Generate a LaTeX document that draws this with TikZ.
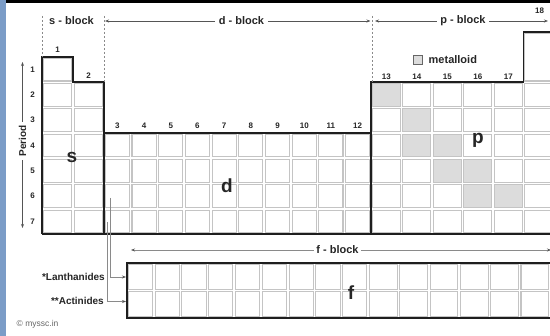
\documentclass[tikz,border=0pt]{standalone}
\usepackage{fontspec}
\setmainfont{Liberation Sans}
\usetikzlibrary{arrows.meta}
\definecolor{cellgray}{HTML}{C4C4C4}
\definecolor{metal}{HTML}{DCDCDC}
\definecolor{outl}{HTML}{1E1E1E}
\definecolor{stripblue}{HTML}{7B9CC7}
\definecolor{arrgray}{HTML}{555555}
\definecolor{lightarr}{HTML}{8A8A8A}
\tikzset{
  cellbox/.style={draw=cellgray, line width=1.1pt, fill=white},
  metalbox/.style={draw=cellgray, line width=1.1pt, fill=metal},
  outline/.style={draw=outl, line width=1.6pt, line join=miter},
  blocklab/.style={font=\fontsize{11}{13}\selectfont\bfseries, inner sep=3.5pt, text=black!85},
  numlab/.style={font=\fontsize{8}{9}\selectfont\bfseries, inner sep=0pt, text=black!85},
  biglab/.style={font=\fontsize{19}{21}\selectfont\bfseries, inner sep=0pt, text=black!85},
  sidelab/.style={font=\fontsize{10}{12}\selectfont\bfseries, inner sep=0pt, text=black!85},
  blockarrow/.style={draw=arrgray, line width=0.7pt, -{Stealth[length=4pt,width=3pt]}},
  dashline/.style={draw=lightarr, line width=0.8pt, dash pattern=on 2.5pt off 1.5pt},
  conn/.style={draw=lightarr, line width=0.8pt},
  connarrow/.style={draw=lightarr, line width=0.8pt, -{Stealth[length=4pt,width=3pt,color=arrgray]}},
}
\begin{document}
\begin{tikzpicture}[x=1pt,y=-1pt]
\useasboundingbox (0,0) rectangle (550,336);
\clip (0,0) rectangle (550,336);
\fill[white] (0,0) rectangle (550,336);
% frame decorations
\fill[stripblue] (0,0) rectangle (6,336);
\fill[black] (6,0) rectangle (550,3.3);

% ---------------- cells ----------------
% s-block
\foreach \r in {1,...,7}{
  \pgfmathsetmacro\ya{57+25.3*(\r-1)}
  \draw[cellbox] (42+1.3,\ya+1.3) rectangle (73-1.3,\ya+25.3-1.3);
}
\foreach \r in {2,...,7}{
  \pgfmathsetmacro\ya{57+25.3*(\r-1)}
  \draw[cellbox] (73+1.3,\ya+1.3) rectangle (104-1.3,\ya+25.3-1.3);
}
% d-block
\foreach \c in {0,...,9}{
  \foreach \r in {4,...,7}{
    \pgfmathsetmacro\xa{104+26.7*\c}
    \pgfmathsetmacro\ya{57+25.3*(\r-1)}
    \draw[cellbox] (\xa+1.3,\ya+1.3) rectangle (\xa+26.7-1.3,\ya+25.3-1.3);
  }
}
% p-block
\foreach \c in {0,...,5}{
  \foreach \r in {2,...,7}{
    \pgfmathsetmacro\xa{371+30.5*\c}
    \pgfmathsetmacro\ya{57+25.3*(\r-1)}
    \draw[cellbox] (\xa+1.3,\ya+1.3) rectangle (\xa+30.5-1.3,\ya+25.3-1.3);
  }
}
\draw[cellbox] (523.5+1.3,32+1.3) rectangle (554-1.3,82.3-1.3);
% metalloids
\foreach \r/\c in {2/0,3/1,4/1,4/2,5/2,5/3,6/3,6/4}{
  \pgfmathsetmacro\xa{371+30.5*\c}
  \pgfmathsetmacro\ya{57+25.3*(\r-1)}
  \draw[metalbox] (\xa+1.3,\ya+1.3) rectangle (\xa+30.5-1.3,\ya+25.3-1.3);
}
% outlines
\draw[outline] (42,234.1) -- (42,57) -- (73,57) -- (73,82.3) -- (104,82.3) -- (104,132.9)
  -- (371,132.9) -- (371,82.3) -- (523.5,82.3) -- (523.5,32) -- (560,32);
\draw[outline] (42,234.1) -- (560,234.1);
\draw[outline] (104,82.3) -- (104,234.1);
\draw[outline] (371,82.3) -- (371,234.1);

% ---------------- f-block ----------------
\foreach \r in {0,1}{
  \pgfmathsetmacro\ya{263+27.5*\r}
  \foreach \c in {0,...,8}{
    \pgfmathsetmacro\xa{127+26.8*\c}
    \draw[cellbox] (\xa+1.3,\ya+1.3) rectangle (\xa+26.8-1.3,\ya+27.5-1.3);
  }
  \foreach \c in {0,...,6}{
    \pgfmathsetmacro\xa{368.2+30.3*\c}
    \draw[cellbox] (\xa+1.3,\ya+1.3) rectangle (\xa+30.3-1.3,\ya+27.5-1.3);
  }
}
\draw[outline] (560,263) -- (127,263) -- (127,318) -- (560,318);

% ---------------- column numbers ----------------
\node[numlab] (g1) at (57.5,50) {1};
\node[numlab] (g2) at (88.5,76) {2};
\foreach \n [count=\k from 0] in {3,...,12}{
  \node[numlab] (g\n) at ({104+26.7*(\k+0.5)},125.5) {\n};
}
\foreach \n [count=\k from 0] in {13,...,17}{
  \node[numlab] (g\n) at ({371+30.5*(\k+0.5)},76.5) {\n};
}
\node[numlab] (g18) at (539.5,11) {18};

% ---------------- period axis ----------------
\foreach \r in {1,...,7}{
  \node[numlab] (row\r) at (32.5,{57+25.3*(\r-0.5)}) {\r};
}
\coordinate (pTop) at (22.5,62);
\coordinate (pBot) at (22.5,228);
\draw[draw=arrgray, line width=0.7pt, {Stealth[length=4pt,width=3pt]}-{Stealth[length=4pt,width=3pt]}] (pTop) -- (pBot);
\node[sidelab, rotate=90, fill=white, inner sep=3pt] (period) at (22.5,141) {Period};

% ---------------- block labels ----------------
\node[blocklab] (slab) at (71.5,21) {s - block};
\node[blocklab] (dlab) at (241.5,21) {d - block};
\node[blocklab] (plab) at (463,21) {p - block};
\coordinate (dL) at (105,21);
\coordinate (dR) at (370.5,21);
\coordinate (pL) at (375,21);
\coordinate (pR) at (548,21);
\draw[blockarrow] (dlab.west) -- (dL);
\draw[blockarrow] (dlab.east) -- (dR);
\draw[blockarrow] (plab.west) -- (pL);
\draw[blockarrow] (plab.east) -- (pR);
% dashed separators
\coordinate (s1a) at (42.5,16); \coordinate (s1b) at (42.5,57);
\coordinate (s2a) at (104,16); \coordinate (s2b) at (104,82.3);
\coordinate (s3a) at (372.7,16); \coordinate (s3b) at (372.7,82.3);
\draw[dashline] (s1a) -- (s1b);
\draw[dashline] (s2a) -- (s2b);
\draw[dashline] (s3a) -- (s3b);

% metalloid legend
\node[draw=black!60, fill=metal, line width=0.6pt, minimum size=9.5pt, inner sep=0pt] (leg) at (418,60) {};
\node[font=\fontsize{11}{13}\selectfont\bfseries, anchor=west, inner sep=0pt, text=black!85] (legt) at (428.5,60) {metalloid};

% big block letters
\node[biglab] (bs) at (72,157) {s};
\node[biglab] (bd) at (227,186) {d};
\node[biglab] (bp) at (478,140) {p};
\node[biglab] (bf) at (351,293) {f};

% ---------------- f-block arrow ----------------
\node[font=\fontsize{11}{13}\selectfont\bfseries, inner sep=2.5pt, text=black!85] (flab) at (337.5,250) {f - block};
\coordinate (fL) at (131,250);
\coordinate (fR) at (551,250);
\draw[draw=lightarr, line width=0.8pt, -{Stealth[length=4pt,width=3pt,color=arrgray]}] (flab.west) -- (fL);
\draw[draw=lightarr, line width=0.8pt, -{Stealth[length=4pt,width=3pt,color=arrgray]}] (flab.east) -- (fR);

% ---------------- lanthanide / actinide connectors ----------------
\coordinate (lanS) at (110.8,198);
\coordinate (actS) at (107.6,222.5);
\coordinate (lanE) at (126,277);
\coordinate (actE) at (126,301.5);
\draw[connarrow] (lanS) |- (lanE);
\draw[connarrow] (actS) |- (actE);
\node[sidelab, anchor=east] (lanlab) at (105,276.5) {*Lanthanides};
\node[sidelab, anchor=east] (actlab) at (104,301) {**Actinides};

% copyright
\node[font=\fontsize{8.5}{10}\selectfont, anchor=west, inner sep=0pt, text=black!60] (copy) at (16.5,324) {© myssc.in};
\end{tikzpicture}
\end{document}
